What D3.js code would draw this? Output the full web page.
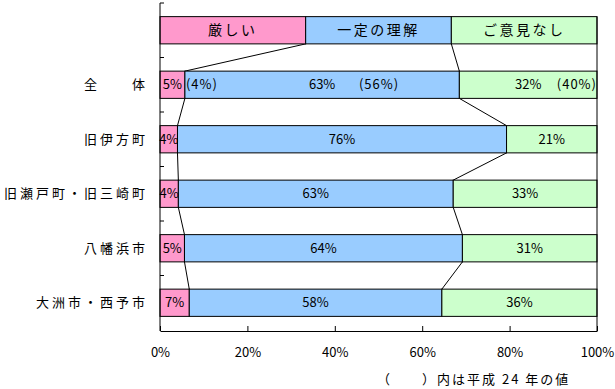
<!DOCTYPE html>
<html><head><meta charset="utf-8">
<script src="https://cdn.jsdelivr.net/npm/d3@7"></script>
<style>body{margin:0;background:#fff}svg{display:block}text{font-family:"Noto Sans CJK JP","Noto Sans",sans-serif;fill:#000}</style>
</head><body><svg id="c" width="615" height="389"></svg>
<script>
const categories = ["全　　体","旧伊方町","旧瀬戸町・旧三崎町","八幡浜市","大洲市・西予市"];
const seriesNames = ["厳しい","一定の理解","ご意見なし"];
const seriesColors = ["#FF99CC","#99CCFF","#CCFFCC"];
const valsSevere = [5.7, 4.0, 4.2, 5.6, 6.7];
const valsUnderstand = [62.8, 75.3, 62.9, 63.6, 57.8];
const valsNone = [31.5, 20.7, 32.9, 30.8, 35.5];
const labelsSevere = ["5%","4%","4%","5%","7%"];
const labelsUnderstand = ["63%","76%","63%","64%","58%"];
const labelsNone = ["32%","21%","33%","31%","36%"];
const prevLabels = ["(4%)","(56%)","(40%)"]; // 平成24年, 全体のみ
const xTicks = [0,20,40,60,80,100];
const footnote = "（　　）内は平成 24 年の値";

const svg = d3.select("#c");
const x = d3.scaleLinear().domain([0,100]).range([160,597]);
const rows = ["legend", ...categories];
const y = d3.scaleBand().domain(rows).range([3,330]).paddingInner(0.5).paddingOuter(0.25);
const bw = y.bandwidth();

const data = [{cat:"legend", vals:[100/3,100/3,100/3]}].concat(categories.map((c,i)=>({cat:c, vals:[valsSevere[i],valsUnderstand[i],valsNone[i]], labels:[labelsSevere[i],labelsUnderstand[i],labelsNone[i]]})));
data.forEach(d=>{let s=0; d.segs=d.vals.map((v,j)=>{const o={x0:s,x1:s+v,j}; s+=v; return o;});});

// connector lines
const g = svg.append("g");
for(let r=0;r<data.length-1;r++){
  for(let b=0;b<2;b++){
    g.append("line")
      .attr("x1",x(data[r].segs[b].x1)).attr("y1",y(data[r].cat)+bw)
      .attr("x2",x(data[r+1].segs[b].x1)).attr("y2",y(data[r+1].cat))
      .attr("stroke","#000").attr("stroke-width",1);
  }
}

// bars
data.forEach(d=>{
  svg.append("g").selectAll("rect").data(d.segs).join("rect")
    .attr("x",s=>x(s.x0)).attr("y",y(d.cat))
    .attr("width",s=>x(s.x1)-x(s.x0)).attr("height",bw)
    .attr("fill",s=>seriesColors[s.j]).attr("stroke","#000").attr("stroke-width",1);
});

// legend row text
const lg = data[0];
svg.append("g").selectAll("text").data(lg.segs).join("text")
  .attr("x",s=>(x(s.x0)+x(s.x1))/2).attr("y",y("legend")+bw/2+5)
  .attr("text-anchor","middle").attr("font-size",14).attr("letter-spacing",2.5)
  .text(s=>seriesNames[s.j]);

// value labels
data.slice(1).forEach(d=>{
  svg.append("g").selectAll("text").data(d.segs).join("text")
    .attr("x",s=>(x(s.x0)+x(s.x1))/2).attr("y",y(d.cat)+bw/2+4.5)
    .attr("text-anchor","middle").attr("font-size",13)
    .text(s=>d.labels[s.j]);
});
const r0 = data[1];
const yy = y(r0.cat)+bw/2+4.5;
svg.append("text").attr("x",x(r0.segs[1].x0)+1).attr("y",yy).attr("font-size",13).attr("letter-spacing",1).text(prevLabels[0]);
svg.append("text").attr("x",379).attr("y",yy).attr("text-anchor","middle").attr("font-size",13).attr("letter-spacing",1).text(prevLabels[1]);
svg.append("text").attr("x",x(100)).attr("y",yy).attr("text-anchor","end").attr("font-size",13).attr("letter-spacing",1).text(prevLabels[2]);

// category axis
const yAxis = d3.axisLeft(y).tickSize(0).tickFormat(d=>d==="legend"?"":d);
const ya = svg.append("g").attr("transform","translate(160,0)").call(yAxis);
ya.select(".domain").remove();
ya.selectAll("text").attr("font-size",13).attr("letter-spacing",3).attr("x",-12).attr("dy","0.35em").style("font-family",'"Noto Sans CJK JP",sans-serif');
svg.append("line").attr("x1",160).attr("x2",160).attr("y1",3).attr("y2",331).attr("stroke","#000");
const step = y.step();
d3.range(0,6).forEach(i=>{
  const yy2 = 3+i*step;
  svg.append("line").attr("x1",160).attr("x2",164).attr("y1",yy2).attr("y2",yy2).attr("stroke","#000");
});
svg.append("line").attr("x1",597).attr("x2",597).attr("y1",y("legend")).attr("y2",331).attr("stroke","#000");

// x axis
const xAxis = d3.axisBottom(x).tickValues(xTicks).tickSize(-5).tickSizeOuter(0).tickFormat(d=>d+"%");
const xa = svg.append("g").attr("transform","translate(0,331)").call(xAxis);
xa.select(".domain").attr("stroke","#000");
xa.selectAll("line").attr("stroke","#000");
xa.selectAll("text").attr("font-size",13).attr("y",21).attr("dy","0.35em").style("font-family",'"Noto Sans CJK JP",sans-serif');

svg.append("text").attr("x",377).attr("y",384).attr("font-size",13).attr("letter-spacing",2).text(footnote);
</script></body></html>
